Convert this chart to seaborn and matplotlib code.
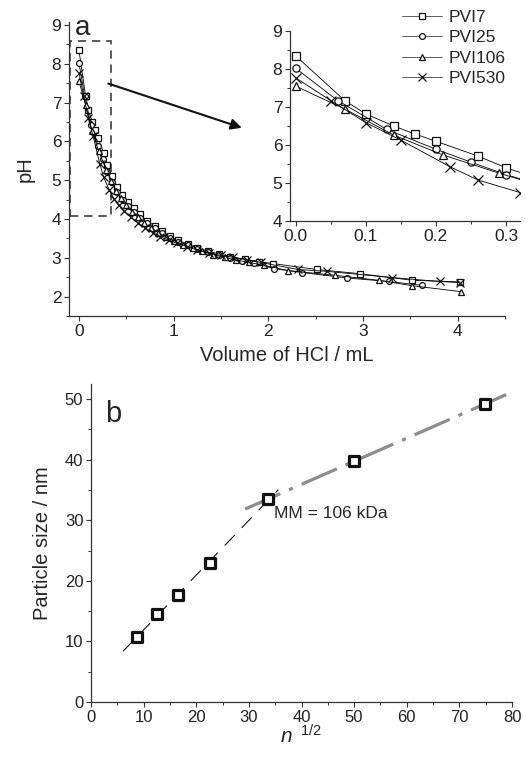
import numpy as np
import matplotlib
matplotlib.use('Agg')
import matplotlib.pyplot as plt
from matplotlib.patches import Rectangle
from matplotlib.lines import Line2D
import seaborn as sns

# titration curves (panel a)
series_names = ['PVI7', 'PVI25', 'PVI106', 'PVI530']
series_markers = ['s', 'o', '^', 'x']

vol_pvi7 = [0.00, 0.07, 0.10, 0.14, 0.17, 0.20, 0.26, 0.30, 0.35, 0.40, 0.45, 0.52, 0.58,
            0.64, 0.72, 0.80, 0.88, 0.96, 1.05, 1.15, 1.25, 1.36, 1.48, 1.60, 1.75, 1.90,
            2.05, 2.51, 2.97, 3.52, 4.02]
ph_pvi7 = [8.35, 7.17, 6.82, 6.50, 6.29, 6.10, 5.71, 5.40, 5.10, 4.83, 4.62, 4.44, 4.28,
           4.12, 3.95, 3.82, 3.68, 3.56, 3.45, 3.35, 3.26, 3.17, 3.10, 3.03, 2.96, 2.90,
           2.85, 2.70, 2.59, 2.42, 2.38]

vol_pvi25 = [0.00, 0.06, 0.13, 0.20, 0.25, 0.30, 0.35, 0.40, 0.46, 0.52, 0.58, 0.65, 0.72,
             0.80, 0.88, 0.96, 1.05, 1.15, 1.25, 1.36, 1.48, 1.60, 1.72, 1.85, 2.06, 2.36,
             2.83, 3.27, 3.62]
ph_pvi25 = [8.02, 7.17, 6.41, 5.89, 5.55, 5.22, 4.95, 4.70, 4.50, 4.33, 4.18, 4.03, 3.90,
            3.76, 3.63, 3.52, 3.42, 3.32, 3.23, 3.14, 3.06, 2.99, 2.93, 2.86, 2.72, 2.62,
            2.48, 2.39, 2.29]

vol_pvi106 = [0.00, 0.07, 0.14, 0.21, 0.29, 0.34, 0.39, 0.44, 0.50, 0.56, 0.62, 0.69, 0.76,
              0.84, 0.92, 1.00, 1.10, 1.20, 1.30, 1.42, 1.54, 1.66, 1.80, 1.95, 2.21, 2.70,
              3.17, 3.52, 4.03]
ph_pvi106 = [7.55, 6.95, 6.26, 5.74, 5.26, 4.98, 4.73, 4.53, 4.35, 4.19, 4.05, 3.90, 3.78,
             3.65, 3.54, 3.44, 3.34, 3.25, 3.17, 3.08, 3.01, 2.94, 2.88, 2.81, 2.67, 2.55,
             2.42, 2.28, 2.13]

vol_pvi530 = [0.00, 0.05, 0.10, 0.15, 0.22, 0.26, 0.32, 0.37, 0.42, 0.48, 0.55, 0.62, 0.70,
              0.78, 0.86, 0.95, 1.04, 1.14, 1.25, 1.37, 1.50, 1.63, 1.77, 1.92, 2.31, 2.62,
              3.31, 3.81, 4.02]
ph_pvi530 = [7.77, 7.17, 6.59, 6.13, 5.43, 5.08, 4.75, 4.52, 4.35, 4.20, 4.04, 3.90, 3.77,
             3.65, 3.54, 3.45, 3.37, 3.29, 3.20, 3.12, 3.06, 3.01, 2.95, 2.88, 2.70, 2.65,
             2.49, 2.39, 2.36]

# particle size vs n^1/2 (panel b)
n_sqrt = [8.7, 12.6, 16.5, 22.6, 33.7, 50.0, 74.9]
particle_size = [10.7, 14.6, 17.6, 23.0, 33.5, 39.8, 49.2]
fit_low_range = [6.1, 35.6]
fit_high_range = [29.3, 79.3]

sns.set_style('ticks')
plt.rcParams['font.family'] = ['Liberation Sans', 'DejaVu Sans']
plt.rcParams['mathtext.fontset'] = 'custom'
plt.rcParams['mathtext.rm'] = 'Liberation Sans'
plt.rcParams['mathtext.it'] = 'Liberation Sans:italic'

fig = plt.figure(figsize=(5.26, 7.58), dpi=100)
ax1 = fig.add_axes([0.1312, 0.5831, 0.8289, 0.3879])
ax_in = fig.add_axes([0.5513, 0.7084, 0.4373, 0.2507])
ax2 = fig.add_axes([0.1730, 0.0739, 0.8004, 0.4195])

all_vol = [vol_pvi7, vol_pvi25, vol_pvi106, vol_pvi530]
all_ph = [ph_pvi7, ph_pvi25, ph_pvi106, ph_pvi530]


def style_axes(ax, tick_size):
    for s in ['top', 'right']:
        ax.spines[s].set_visible(False)
    for s in ['left', 'bottom']:
        ax.spines[s].set_linewidth(0.9)
        ax.spines[s].set_color('#333333')
    ax.tick_params(which='major', direction='out', length=3.5, width=0.8,
                   labelsize=tick_size, colors='#333333', labelcolor='#222222', pad=2)
    ax.tick_params(which='minor', direction='out', length=2, width=0.7, colors='#333333')


def marker_size(mk, base):
    # crosses look bigger in the original
    return base * 1.45 if mk == 'x' else base


for ax, ms in [(ax1, 4.2), (ax_in, 5.2)]:
    for name, mk, xv, yv in zip(series_names, series_markers, all_vol, all_ph):
        sns.lineplot(x=xv, y=yv, ax=ax, color='k', lw=0.6, marker=mk,
                     ms=marker_size(mk, ms), mfc='white', mec='#111111', mew=0.9,
                     sort=False, estimator=None)

handles = []
for name, mk in zip(series_names, series_markers):
    handles.append(Line2D([], [], color='#444444', lw=0.6, marker=mk,
                          ms=marker_size(mk, 4.2), mfc='white', mec='#111111', mew=0.9))

# panel a
ax1.set_xlim(-0.105, 4.5)
ax1.set_ylim(1.538, 9.077)
ax1.set_xticks([0, 1, 2, 3, 4])
ax1.set_xticks([0.5, 1.5, 2.5, 3.5, 4.5], minor=True)
ax1.set_yticks(range(2, 10))
ax1.set_yticks(np.arange(1.5, 9.0, 1.0), minor=True)
style_axes(ax1, 12.5)
ax1.set_xlabel('Volume of HCl / mL', fontsize=14.5, labelpad=5)
ax1.set_ylabel('pH', fontsize=14.5, labelpad=12)
ax1.text(-0.045, 8.93, 'a', fontsize=20, va='center', ha='left')
ax1.add_patch(Rectangle((-0.094, 4.08), 0.43, 4.51, fill=False, ls=(0, (5, 3.5)),
                        lw=1.2, ec='#404040'))
ax1.annotate('', xy=(1.72, 6.35), xytext=(0.31, 7.49),
             arrowprops=dict(arrowstyle='-|>', lw=1.5, color='#111111',
                             mutation_scale=16, shrinkA=0, shrinkB=0))

# inset
ax_in.set_xlim(-0.008, 0.32)
ax_in.set_ylim(4, 9)
ax_in.set_xticks([0.0, 0.1, 0.2, 0.3])
ax_in.set_xticklabels(['0.0', '0.1', '0.2', '0.3'])
ax_in.set_xticks([0.05, 0.15, 0.25], minor=True)
ax_in.set_yticks(range(4, 10))
ax_in.set_yticks(np.arange(4.5, 9.0, 1.0), minor=True)
style_axes(ax_in, 12.5)
ax_in.patch.set_alpha(0)
ax_in.set_xlabel('')
ax_in.set_ylabel('')

fig.legend(handles, series_names, loc='upper left', bbox_to_anchor=(0.765, 0.987),
           bbox_transform=fig.transFigure, frameon=False, fontsize=12.5,
           handlelength=2.3, handletextpad=0.35, labelspacing=0.3,
           borderpad=0, borderaxespad=0)

# panel b
lo = np.polyfit(n_sqrt[:5], particle_size[:5], 1)
hi = np.polyfit(n_sqrt[4:], particle_size[4:], 1)
ax2.plot(fit_low_range, np.polyval(lo, fit_low_range), color='#111111', lw=0.8,
         ls=(0, (13, 9)))
ax2.plot(fit_high_range, np.polyval(hi, fit_high_range), color='#8c8c8c', lw=2.3,
         ls=(0, (12, 3, 1.3, 3)))
sns.scatterplot(x=n_sqrt, y=particle_size, ax=ax2, marker='s', s=50, color='white',
                edgecolor='#111111', linewidth=2.3, zorder=5)
ax2.set_xlim(0, 80)
ax2.set_ylim(0, 52.5)
ax2.set_xticks(range(0, 81, 10))
ax2.set_xticks(range(5, 80, 10), minor=True)
ax2.set_yticks(range(0, 51, 10))
ax2.set_yticks(range(5, 51, 10), minor=True)
style_axes(ax2, 12)
ax2.set_xlabel(r'$n^{\ \ 1/2}$', fontsize=15, labelpad=0)
ax2.set_ylabel('Particle size / nm', fontsize=14.5, labelpad=9)
ax2.text(2.6, 47.6, 'b', fontsize=21, va='center', ha='left')
ax2.text(34.8, 31.2, 'MM = 106 kDa', fontsize=12.5, va='center', ha='left')

fig.savefig('out.png', dpi=100)
